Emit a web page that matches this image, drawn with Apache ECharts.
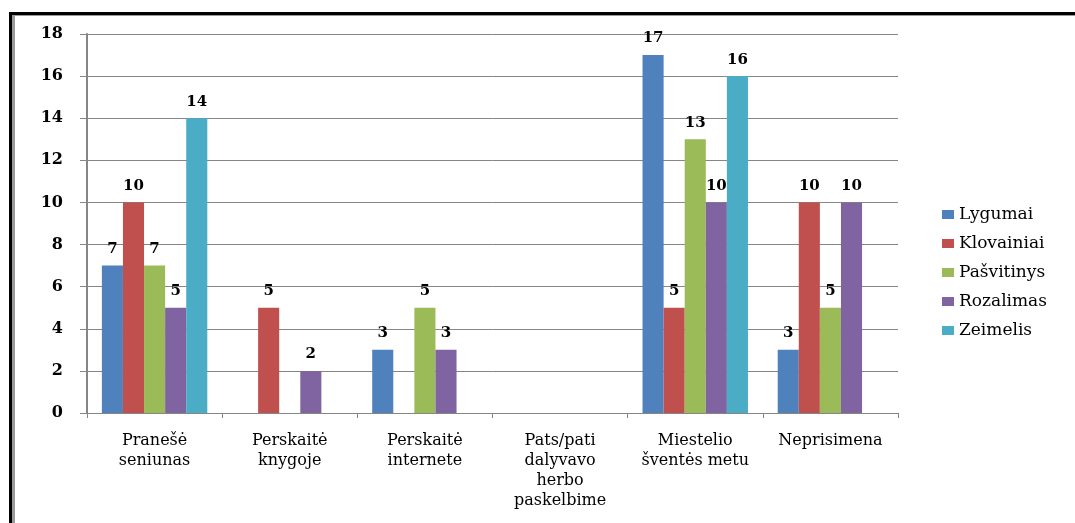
<!DOCTYPE html>
<html>
<head>
<meta charset="utf-8">
<script src="https://cdn.jsdelivr.net/npm/echarts@6/dist/echarts.min.js"></script>
<style>
html,body{margin:0;padding:0;background:#fff;}
#chart{width:1075px;height:523px;}
</style>
</head>
<body>
<div id="chart"></div>
<script>
var categories = ["Pranešė\nseniunas", "Perskaitė\nknygoje", "Perskaitė\ninternete", "Pats/pati\ndalyvavo\nherbo\npaskelbime", "Miestelio\nšventės metu", "Neprisimena"];
var seriesNames = ["Lygumai", "Klovainiai", "Pašvitinys", "Rozalimas", "Zeimelis"];
var lygumai = [7, null, 3, null, 17, 3];
var klovainiai = [10, 5, null, null, 5, 10];
var pasvitinys = [7, null, 5, null, 13, 5];
var rozalimas = [5, 2, 3, null, 10, 10];
var zeimelis = [14, null, null, null, 16, null];
var yTicks = [0, 2, 4, 6, 8, 10, 12, 14, 16, 18];

var colors = ["#4F81BD", "#C0504D", "#9BBB59", "#8064A2", "#4BACC6"];
var values = [lygumai, klovainiai, pasvitinys, rozalimas, zeimelis];
var serif = "'DejaVu Serif', 'Liberation Serif', serif";

var series = seriesNames.map(function (n, i) {
  return {
    name: n,
    type: 'bar',
    data: values[i],
    itemStyle: { color: colors[i] },
    barGap: '0%',
    barCategoryGap: '22%',
    label: {
      show: true,
      position: 'top',
      distance: 9,
      fontFamily: serif,
      fontWeight: 'bold',
      fontSize: 15,
      color: '#000'
    }
  };
});

var chart = echarts.init(document.getElementById('chart'));
chart.setOption({
  animation: false,
  color: colors,
  grid: { left: 87, right: 177, top: 34, bottom: 110, containLabel: false },
  legend: {
    orient: 'vertical',
    left: 937,
    top: 201,
    itemWidth: 12,
    itemHeight: 9,
    itemGap: 12,
    icon: 'rect',
    textStyle: { fontFamily: serif, fontSize: 17, color: '#000' },
    data: seriesNames
  },
  xAxis: {
    type: 'category',
    data: categories,
    axisLine: { lineStyle: { color: '#868686', width: 1 } },
    axisTick: { show: true, length: 5, alignWithLabel: false, lineStyle: { color: '#868686' } },
    axisLabel: {
      interval: 0,
      margin: 18,
      fontFamily: serif,
      fontSize: 16,
      lineHeight: 20,
      color: '#000'
    }
  },
  yAxis: {
    type: 'value',
    min: yTicks[0],
    max: yTicks[yTicks.length - 1],
    interval: 2,
    axisLine: { show: true, lineStyle: { color: '#868686', width: 2 } },
    axisTick: { show: true, length: 7, lineStyle: { color: '#868686' } },
    splitLine: { show: true, lineStyle: { color: '#868686', width: 1 } },
    axisLabel: {
      margin: 24,
      fontFamily: serif,
      fontWeight: 'bold',
      fontSize: 16,
      color: '#000'
    }
  },
  graphic: [
    { type: 'rect', shape: { x: 12, y: 15, width: 3, height: 600 }, style: { fill: '#9a9a9a' }, silent: true },
    { type: 'rect', shape: { x: 9, y: 12, width: 3, height: 600 }, style: { fill: '#000' }, silent: true },
    { type: 'rect', shape: { x: 9, y: 12, width: 1100, height: 3 }, style: { fill: '#000' }, silent: true },
    { type: 'rect', shape: { x: 15, y: 15, width: 1100, height: 1 }, style: { fill: '#9a9a9a' }, silent: true }
  ],
  series: series
});
</script>
</body>
</html>
